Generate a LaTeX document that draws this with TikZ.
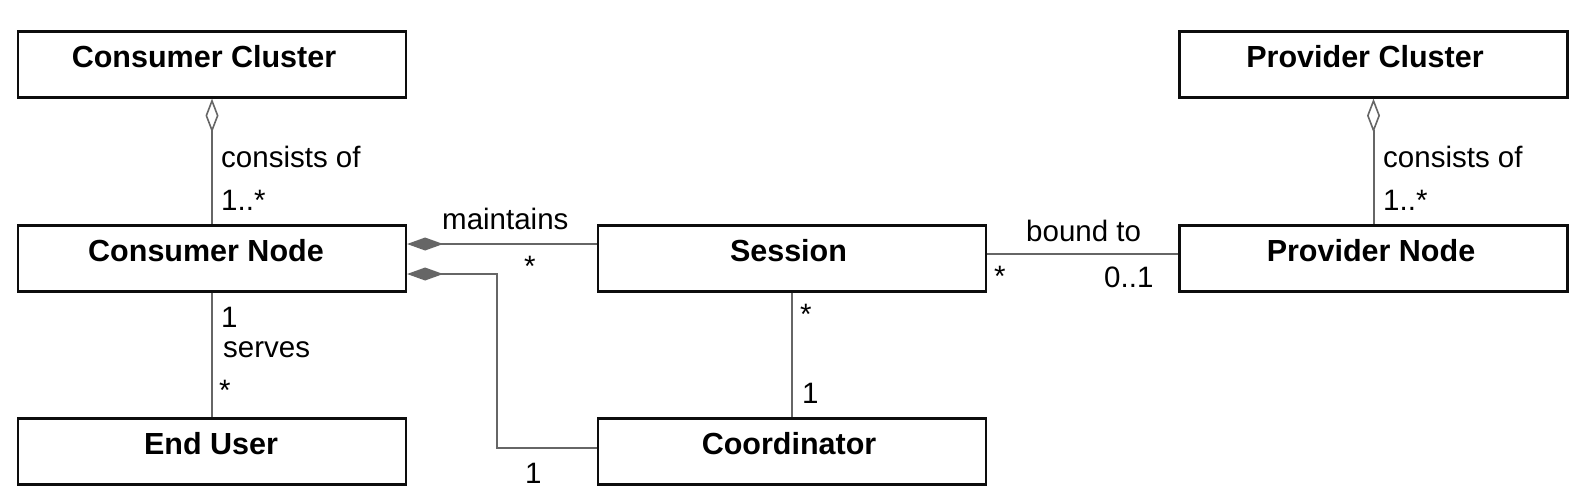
\documentclass[tikz,border=0pt]{standalone}
\usepackage{fontspec}
\setmainfont{Liberation Sans}
\usetikzlibrary{arrows.meta}
\begin{document}
\begin{tikzpicture}[x=1pt,y=-1pt,
  box/.style={draw=black!95,line width=2.2pt,minimum width=388pt,minimum height=66pt,inner sep=0pt,fill=white},
  title/.style={font=\fontsize{30.5}{34}\selectfont\bfseries,anchor=base,inner sep=0pt},
  lbl/.style={font=\fontsize{29.5}{33}\selectfont,inner sep=0pt},
  assoc/.style={draw=black!60,line width=2pt},
  agg/.style={{Diamond[open,length=34pt,width=13pt,line width=1.6pt]}-},
  comp/.style={{Diamond[length=36pt,width=13pt]}-}]
\useasboundingbox[fill=white] (0,0) rectangle (1592,493);
% boxes
\node[box] (cc) at (212,64.5) {};
\node[box] (cn) at (212,258.5) {};
\node[box] (eu) at (212,451.5) {};
\node[box] (s)  at (792,258.5) {};
\node[box] (co) at (792,451.5) {};
\node[box] (pc) at (1373.5,64.5) {};
\node[box] (pn) at (1373.5,258.5) {};
\node[title] (tcc) at ([xshift=-8pt,yshift=-37pt]cc.north) {Consumer Cluster};
\node[title] (tcn) at ([xshift=-6pt,yshift=-37pt]cn.north) {Consumer Node};
\node[title] (teu) at ([xshift=-1pt,yshift=-37pt]eu.north) {End User};
\node[title] (ts)  at ([xshift=-3.5pt,yshift=-37pt]s.north) {Session};
\node[title] (tco) at ([xshift=-3pt,yshift=-37pt]co.north) {Coordinator};
\node[title] (tpc) at ([xshift=-8.5pt,yshift=-37pt]pc.north) {Provider Cluster};
\node[title] (tpn) at ([xshift=-2.5pt,yshift=-37pt]pn.north) {Provider Node};
% connectors
\draw[assoc,agg] (cc.south) -- (cn.north);
\draw[assoc] (cn.south) -- (eu.north);
\draw[assoc,comp] ([yshift=14.5pt]cn.east) -- ([yshift=14.5pt]s.west);
\draw[assoc,comp] ([yshift=-15.5pt]cn.east) -| ([xshift=-99.5pt,yshift=4pt]co.west) -- ([yshift=4pt]co.west);
\draw[assoc] (s.south) -- (co.north);
\draw[assoc] ([yshift=4.7pt]s.east) -- ([yshift=4.7pt]pn.west);
\draw[assoc,agg] (pc.south) -- (pn.north);
% labels
\node[lbl,anchor=west] (l1) at (221,157) {consists of};
\node[lbl,anchor=west] (l2) at (221,200) {1..*};
\node[lbl,anchor=west] (l3) at (442,219) {maintains};
\node[lbl,anchor=west] (l4) at (524,266) {*};
\node[lbl,anchor=west] (l5) at (221,317) {1};
\node[lbl,anchor=west] (l6) at (223,350) {serves};
\node[lbl,anchor=west] (l7) at (219,390) {*};
\node[lbl,anchor=west] (l8) at (525,473) {1};
\node[lbl,anchor=west] (l9) at (800,314) {*};
\node[lbl,anchor=west] (l10) at (802,393) {1};
\node[lbl,anchor=west] (l11) at (1026,231) {bound to};
\node[lbl,anchor=west] (l12) at (994,276) {*};
\node[lbl,anchor=west] (l13) at (1104,277) {0..1};
\node[lbl,anchor=west] (l14) at (1383,157) {consists of};
\node[lbl,anchor=west] (l15) at (1383,200) {1..*};
\end{tikzpicture}
\end{document}
